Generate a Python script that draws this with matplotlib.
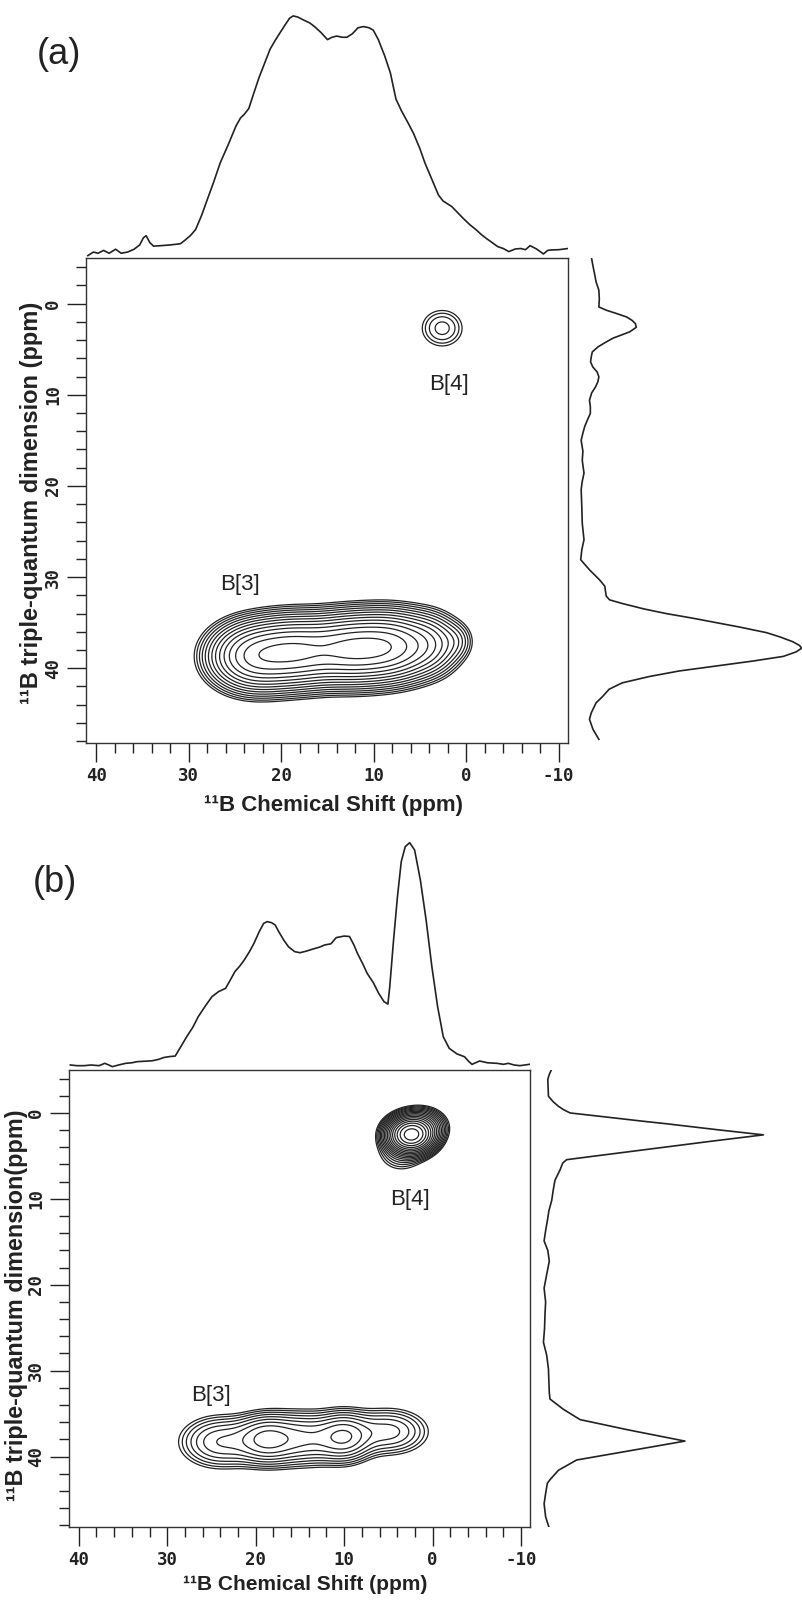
import numpy as np
import matplotlib
matplotlib.use('Agg')
import matplotlib.pyplot as plt
from matplotlib.ticker import MultipleLocator

plt.rcParams['axes.unicode_minus'] = False

# ---------------- data ----------------
# (a) top projection: 11B chemical shift (ppm) / normalised intensity
a_top_ppm = [40.9, 40.3, 39.8, 39.2, 38.6, 37.9, 37.3, 36.6, 35.9, 35.3, 34.9, 34.6, 34.2, 33.8,
             33.0, 32.0, 30.9, 30.4, 29.8, 29.25, 28.6, 28.0, 27.3, 26.6, 25.7, 24.9, 24.4,
             24.0, 23.5, 23.0, 22.4, 21.8, 21.2, 20.6, 19.7, 19.1, 18.7, 18.2, 17.6, 16.9,
             16.4, 15.7, 15.0, 14.5, 14.0, 13.4, 12.9, 12.3, 11.7, 11.1, 10.5, 10.05, 9.5,
             8.8, 8.2, 7.6, 7.0, 6.3, 5.7, 5.0, 4.46, 3.7, 3.0, 2.5, 1.57, 0.9, 0.33, -0.4,
             -1.1, -1.6, -2.15, -2.8, -3.4, -4.0, -4.6, -5.3, -5.9, -6.4, -6.9, -7.6, -8.35,
             -8.8, -9.2, -10.0, -11.0]
a_top_int = [-0.01, 0.005, 0.0, 0.012, 0.0, 0.017, 0.0, 0.005, 0.017, 0.035, 0.065, 0.074, 0.045, 0.03,
             0.032, 0.035, 0.04, 0.055, 0.075, 0.10, 0.16, 0.225, 0.30, 0.38, 0.46, 0.535, 0.57,
             0.585, 0.61, 0.67, 0.74, 0.80, 0.86, 0.90, 0.955, 0.99, 1.0, 0.995, 0.983, 0.97,
             0.955, 0.93, 0.90, 0.91, 0.915, 0.91, 0.91, 0.925, 0.95, 0.955, 0.95, 0.94, 0.90,
             0.83, 0.76, 0.65, 0.60, 0.55, 0.505, 0.44, 0.38, 0.31, 0.245, 0.22, 0.197, 0.17, 0.147, 0.12,
             0.098, 0.08, 0.063, 0.045, 0.028, 0.02, 0.007, 0.018, 0.02, 0.015, 0.032, 0.018, -0.003,
             0.012, 0.014, 0.015, 0.02]

# (a) side projection: triple-quantum dimension (ppm) / normalised intensity
a_side_ppm = [-4.9, -4.0, -3.3, -2.4, -1.46, -0.5, 0.37, 0.73, 1.1, 1.47, 1.85, 2.2, 2.6, 3.1,
              3.5, 3.8, 4.3, 4.75, 5.3, 5.85, 6.4, 6.94, 7.5, 8.04, 8.6, 9.13, 9.8, 10.6, 11.3,
              12.05, 12.8, 13.5, 14.2, 15.0, 16.2, 17.2, 18.6, 19.5, 20.4, 22.3, 24.1, 25.9,
              27.0, 28.1, 29.2, 30.3, 31.0, 31.7, 32.1, 32.5, 32.9, 33.5, 34.0, 34.5, 35.0,
              35.5, 36.1, 36.6, 37.1, 37.5, 37.8, 38.2, 38.7, 39.2, 39.8, 40.3, 40.9, 41.6,
              42.3, 43.1, 43.8, 44.9, 45.6, 46.7, 47.8]
a_side_int = [0.04, 0.047, 0.053, 0.06, 0.073, 0.075, 0.073, 0.107, 0.155, 0.20, 0.225, 0.24, 0.244, 0.214,
              0.17, 0.137, 0.10, 0.069, 0.043, 0.038, 0.035, 0.045, 0.065, 0.073, 0.068, 0.058, 0.04, 0.03, 0.034,
              0.034, 0.02, 0.008, 0.0, -0.008, 0.0, -0.003, 0.005, -0.003, -0.008, -0.005, -0.003, 0.005,
              -0.005, -0.01, 0.03, 0.076, 0.10, 0.104, 0.107, 0.122, 0.18, 0.28, 0.38, 0.50, 0.61,
              0.72, 0.84, 0.905, 0.96, 0.99, 1.0, 0.975, 0.916, 0.78, 0.595, 0.44, 0.305, 0.18,
              0.12, 0.09, 0.06, 0.038, 0.03, 0.046, 0.073]

# (b) top projection
b_top_ppm = [40.95, 40.2, 39.4, 38.6, 37.7, 37.06, 36.6, 36.2, 35.5, 34.7, 34.0, 33.4, 32.5, 31.7,
             31.0, 30.35, 29.7, 29.1, 28.5, 27.8, 27.1, 26.5, 25.7, 24.95, 24.2, 23.4, 22.9,
             22.35, 21.8, 21.3, 20.7, 20.2, 19.6, 19.1, 18.7, 18.2, 17.8, 17.4, 16.8, 16.3,
             15.6, 15.0, 14.3, 13.5, 12.8, 12.2, 11.5, 10.9, 10.0, 9.4, 8.9, 8.5, 7.9, 7.4,
             6.7, 6.1, 5.5, 5.06, 4.85, 4.42, 3.98, 3.55, 3.1, 2.6, 2.04, 1.39, 0.74, 0.09,
             -0.56, -1.2, -1.87, -2.74, -3.6, -4.1, -4.45, -5.3, -6.2, -7.27, -8.0, -8.56,
             -9.2, -9.86, -10.94]
b_top_int = [0.0, -0.003, -0.003, 0.0, -0.003, 0.0075, 0.0, -0.0075, 0.0, 0.0075, 0.01, 0.015, 0.017, 0.019,
             0.025, 0.034, 0.038, 0.04, 0.08, 0.127, 0.17, 0.217, 0.265, 0.307, 0.33, 0.345, 0.38,
             0.42, 0.445, 0.472, 0.51, 0.547, 0.60, 0.637, 0.645, 0.64, 0.63, 0.60, 0.56, 0.532,
             0.51, 0.505, 0.512, 0.522, 0.53, 0.54, 0.545, 0.573, 0.58, 0.578, 0.54, 0.502, 0.455, 0.412,
             0.37, 0.322, 0.285, 0.274, 0.352, 0.562, 0.757, 0.915, 0.982, 1.0, 0.967, 0.832, 0.652, 0.442,
             0.262, 0.127, 0.075, 0.05, 0.037, 0.015, 0.003, 0.018, 0.01, 0.0075, 0.003, 0.0075,
             0.0, -0.003, 0.003]

# (b) side projection
b_side_ppm = [-5.1, -4.5, -3.9, -1.95, -1.3, -0.78, -0.39, 0.0, 0.39, 0.98, 1.25, 1.96, 2.55, 3.3,
              4.27, 5.05, 5.44, 5.83, 6.6, 7.85, 9.0, 10.2, 11.4, 12.55, 13.7, 14.9, 16.0, 17.25,
              18.8, 20.4, 22.0, 23.5, 25.1, 26.7, 28.2, 29.8, 31.2, 32.55, 33.3, 34.5, 35.7,
              36.9, 38.2, 39.4, 40.4, 41.6, 42.7, 43.1, 44.3, 45.5, 47.0, 48.6]
b_side_int = [0.023, 0.012, 0.005, 0.008, 0.03, 0.054, 0.077, 0.108, 0.245, 0.45, 0.55, 0.79, 1.0, 0.757,
              0.455, 0.212, 0.092, 0.074, 0.062, 0.038, 0.03, 0.023, 0.01, 0.003, -0.005, -0.012, 0.005, 0.012,
              0.0, -0.012, -0.005, -0.008, -0.01, -0.015, 0.0, 0.008, 0.01, 0.012, 0.015, 0.077, 0.154,
              0.377, 0.638, 0.366, 0.138, 0.054, 0.015, 0.003, -0.005, -0.012, -0.005, 0.015]

# 2D peaks (Gaussian components): centre x, centre y, width x, width y, amplitude
a_peak_x0 = [23.0, 18.5, 12.5, 8.0, 3.8, 1.0]
a_peak_y0 = [38.7, 38.2, 37.9, 37.6, 37.3, 37.0]
a_peak_sx = [2.5, 2.8, 2.8, 2.6, 1.8, 1.1]
a_peak_sy = [1.9, 1.9, 1.9, 1.9, 1.8, 1.2]
a_peak_amp = [0.75, 1.0, 1.0, 0.8, 0.2, 0.05]
a_b4 = [2.6, 2.7, 1.55, 1.4, 0.075]
a_levels = [0.022, 0.029, 0.0386, 0.051, 0.0676, 0.0895, 0.1185, 0.157, 0.208, 0.275,
            0.364, 0.482, 0.638, 0.845]

b_peak_x0 = [24.0, 18.8, 14.5, 10.0, 5.0]
b_peak_y0 = [38.3, 38.0, 37.9, 37.7, 37.1]
b_peak_sx = [2.5, 2.0, 2.5, 1.8, 2.5]
b_peak_sy = [1.65, 1.55, 1.65, 1.55, 1.5]
b_peak_amp = [0.042, 0.078, 0.054, 0.072, 0.036]
b_b4_x0 = [2.45, 1.3, 3.6]
b_b4_y0 = [2.55, 1.6, 4.6]
b_b4_sx = [1.25, 1.3, 1.5]
b_b4_sy = [1.0, 1.0, 1.3]
b_b4_amp = [1.0, 0.12, 0.02]
b_levels = [0.0071 * 1.35 ** k for k in range(17)]

a_labels = [('B[4]', 1.9, 8.9), ('B[3]', 24.5, 30.8)]
b_labels = [('B[4]', 2.6, 10.1), ('B[3]', 25.0, 32.9)]

x_ticks = [40, 30, 20, 10, 0, -10]
y_ticks = [0, 10, 20, 30, 40]

# ---------------- drawing ----------------
W, H = 802, 1600
XLIM = (41.1, -11.0)
YLIM = (48.2, -5.0)
INK = '#222222'
LABFONT = ['Liberation Sans', 'DejaVu Sans']

fig = plt.figure(figsize=(W / 100, H / 100), dpi=100)


def px_axes(left, top, right, bottom):
    return fig.add_axes([left / W, 1 - bottom / H, (right - left) / W, (bottom - top) / H])


def gauss_sum(xg, yg, x0s, y0s, sxs, sys, amps):
    z = np.zeros_like(xg)
    for x0, y0, sx, sy, a in zip(x0s, y0s, sxs, sys, amps):
        z += a * np.exp(-(xg - x0) ** 2 / (2 * sx ** 2) - (yg - y0) ** 2 / (2 * sy ** 2))
    return z


xs = np.linspace(-11, 41.1, 500)
ys = np.linspace(-5, 48.2, 500)
XG, YG = np.meshgrid(xs, ys)


def style_main(ax):
    ax.set_xlim(*XLIM)
    ax.set_ylim(*YLIM)
    ax.set_xticks(x_ticks)
    ax.set_yticks(y_ticks)
    ax.xaxis.set_minor_locator(MultipleLocator(2))
    ax.yaxis.set_minor_locator(MultipleLocator(2))
    ax.tick_params(which='major', direction='out', length=14, width=1.0, color=INK, pad=3)
    ax.tick_params(which='minor', direction='out', length=7, width=1.0, color=INK)
    ax.tick_params(axis='y', labelrotation=90)
    for lab in ax.get_xticklabels() + ax.get_yticklabels():
        lab.set_fontfamily('DejaVu Sans Mono')
        lab.set_fontweight('bold')
        lab.set_fontsize(12.5)
        lab.set_color(INK)
    for lab in ax.get_yticklabels():
        lab.set_va('center')
    for sp in ax.spines.values():
        sp.set_linewidth(1.0)
        sp.set_color('#333333')


def panel(box, top_top, side_right, top_ylim, side_xlim, top_ppm, top_int, side_ppm, side_int,
          z, levels, labels, tag, tag_xy, xlab, xlab_xy, ylab, ylab_xy, xlab_size, ylab_size):
    left, top, right, bottom = box
    ax = px_axes(left, top, right, bottom)
    ax.contour(XG, YG, z, levels=levels, colors=INK, linewidths=0.9)
    for txt, x, y in labels:
        ax.text(x, y, txt, ha='center', va='center', fontsize=16, family=LABFONT, color=INK)
    style_main(ax)

    axt = px_axes(left, top_top, right, top)
    axt.plot(top_ppm, top_int, color=INK, lw=1.2, solid_joinstyle='round')
    axt.set_xlim(*XLIM)
    axt.set_ylim(*top_ylim)
    axt.axis('off')

    axs = px_axes(side_right[0], top, side_right[1], bottom)
    axs.plot(side_int, side_ppm, color=INK, lw=1.2, solid_joinstyle='round')
    axs.set_ylim(*YLIM)
    axs.set_xlim(*side_xlim)
    axs.axis('off')

    fig.text(tag_xy[0] / W, 1 - tag_xy[1] / H, tag, ha='center', va='center',
             fontsize=26, family=LABFONT, color=INK)
    fig.text(xlab_xy[0] / W, 1 - xlab_xy[1] / H, xlab, ha='center', va='center',
             fontsize=xlab_size, weight='bold', family=LABFONT, color=INK)
    fig.text(ylab_xy[0] / W, 1 - ylab_xy[1] / H, ylab, ha='center', va='center', rotation=90,
             fontsize=ylab_size, weight='bold', family=LABFONT, color=INK)


za = gauss_sum(XG, YG, a_peak_x0, a_peak_y0, a_peak_sx, a_peak_sy, a_peak_amp)
za_max = za.max()
za = (za + gauss_sum(XG, YG, *[[v] for v in a_b4])) / za_max

zb = gauss_sum(XG, YG, b_peak_x0, b_peak_y0, b_peak_sx, b_peak_sy, b_peak_amp)
zb = zb + gauss_sum(XG, YG, b_b4_x0, b_b4_y0, b_b4_sx, b_b4_sy, b_b4_amp)

panel((86, 258, 568, 743), 0, (570, 802), (-0.02, 1.067), (-0.059, 1.0014),
      a_top_ppm, a_top_int, a_side_ppm, a_side_int, za, a_levels, a_labels,
      '(a)', (59, 54), '¹¹B Chemical Shift (ppm)', (334, 806),
      '¹¹B triple-quantum dimension (ppm)', (32, 503), 16, 17)

panel((69, 1070, 530, 1527), 800, (535, 802), (-0.0225, 1.192), (-0.054, 1.178),
      b_top_ppm, b_top_int, b_side_ppm, b_side_int, zb, b_levels, b_labels,
      '(b)', (55, 882), '¹¹B Chemical Shift (ppm)', (305, 1585),
      '¹¹B triple-quantum dimension(ppm)', (17, 1305), 15, 16.8)

fig.savefig('out.png', dpi=100, facecolor='white')
